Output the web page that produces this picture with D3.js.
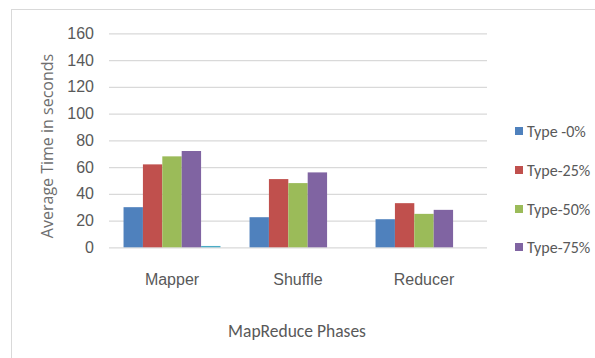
<!DOCTYPE html>
<html>
<head>
<meta charset="utf-8">
<script src="https://cdn.jsdelivr.net/npm/d3@7/dist/d3.min.js"></script>
<style>
  html, body { margin: 0; padding: 0; background: #fff; }
  svg { display: block; font-family: "Carlito", "Open Sans", sans-serif; }
</style>
</head>
<body>
<svg id="chart" width="595" height="358"></svg>
<script>
// MapReduce phase timings per workload type (seconds)
const phases = ["Mapper", "Shuffle", "Reducer"];
const seriesNames = ["Type -0%", "Type-25%", "Type-50%", "Type-75%", ""];
const type0 = [30, 22.5, 21];
const type25 = [62, 51, 33];
const type50 = [68, 48, 25];
const type75 = [72, 56, 28];
const extra = [1, 0, 0];
const yTicks = [0, 20, 40, 60, 80, 100, 120, 140, 160];
const colors = ["#4F81BD", "#C0504D", "#9BBB59", "#8064A2", "#4BACC6"];

const series = [type0, type25, type50, type75, extra];

const svg = d3.select("#chart");
const plot = { left: 109, right: 487, top: 33.3, bottom: 247.3 };
const textColor = "#595959";

// chart frame
svg.append("rect")
  .attr("x", 11.5).attr("y", 9.5)
  .attr("width", 600).attr("height", 360)
  .attr("fill", "none").attr("stroke", "#d9d9d9");

const y = d3.scaleLinear().domain([0, 160]).range([plot.bottom, plot.top]);
const x0 = d3.scaleBand().domain(phases).range([plot.left, plot.right]).padding(0);
const x1 = d3.scaleBand().domain(d3.range(series.length))
  .range([0, x0.bandwidth()]).paddingInner(0).paddingOuter(0.75);

// gridlines
const yAxis = d3.axisLeft(y).tickValues(yTicks).tickSize(-(plot.right - plot.left)).tickPadding(15);
const gy = svg.append("g").attr("transform", `translate(${plot.left},0)`).call(yAxis);
gy.select(".domain").remove();
gy.selectAll(".tick line").attr("stroke", "#d9d9d9").attr("stroke-width", 1.2);
gy.selectAll(".tick text")
  .attr("fill", textColor).attr("font-size", 16).attr("font-family", null);

// bars
const groups = svg.append("g").selectAll("g")
  .data(phases)
  .join("g")
  .attr("transform", d => `translate(${x0(d)},0)`);

groups.selectAll("rect")
  .data((p, i) => series.map((s, k) => ({ k, v: s[i] })))
  .join("rect")
  .attr("x", d => x1(d.k))
  .attr("width", x1.bandwidth())
  .attr("y", d => y(d.v))
  .attr("height", d => y(0) - y(d.v))
  .attr("fill", d => colors[d.k]);

// category axis labels
const xAxis = d3.axisBottom(x0).tickSize(0).tickPadding(26);
const gx = svg.append("g").attr("transform", `translate(0,${plot.bottom})`).call(xAxis);
gx.select(".domain").remove();
gx.selectAll(".tick text")
  .attr("fill", textColor).attr("font-size", 16).attr("font-family", null);

// axis titles
svg.append("text")
  .attr("x", (plot.left + plot.right) / 2 - 1)
  .attr("y", 337)
  .attr("text-anchor", "middle")
  .attr("fill", textColor).attr("font-size", 17.5)
  .text("MapReduce Phases");

svg.append("text")
  .attr("transform", "translate(53,146) rotate(-90)")
  .attr("text-anchor", "middle")
  .attr("font-family", "Open Sans, sans-serif")
  .attr("fill", "#6e6e6e").attr("font-size", 16)
  .text("Average Time in seconds");

// legend
const legendY = [131, 170, 209, 247];
const legend = svg.append("g").selectAll("g")
  .data(seriesNames.slice(0, 4))
  .join("g")
  .attr("transform", (d, i) => `translate(515,${legendY[i]})`);
legend.append("rect")
  .attr("x", 0).attr("y", -4).attr("width", 8).attr("height", 8)
  .attr("fill", (d, i) => colors[i]);
legend.append("text")
  .attr("x", 12).attr("y", 5.5)
  .attr("fill", textColor).attr("font-size", 16)
  .text(d => d);
</script>
</body>
</html>
